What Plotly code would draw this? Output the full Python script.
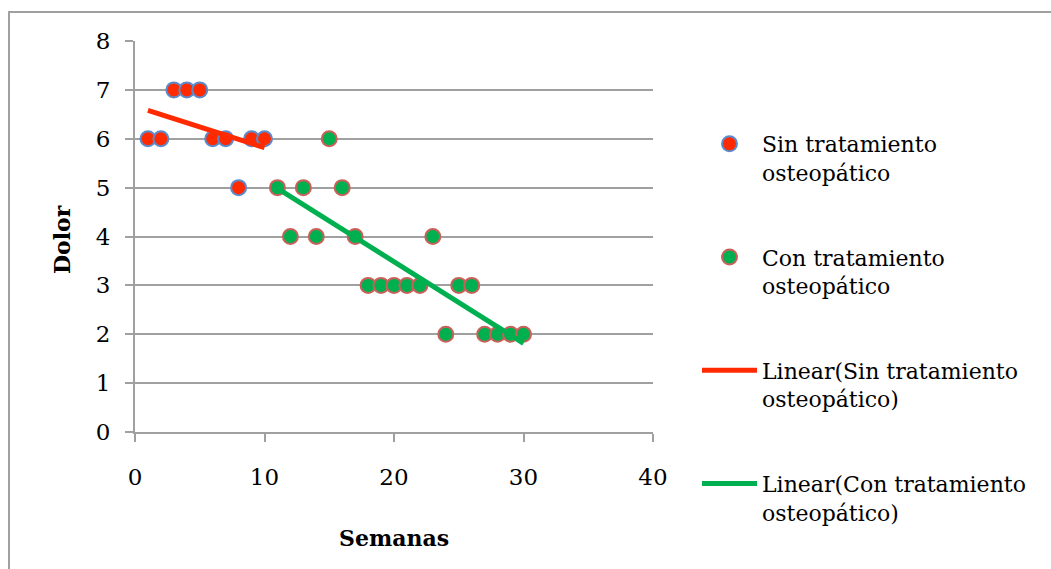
import numpy as np
import plotly.graph_objects as go

# Weekly pain scores
semanas_sin = [1, 2, 3, 4, 5, 6, 7, 8, 9, 10]
dolor_sin = [6, 6, 7, 7, 7, 6, 6, 5, 6, 6]

semanas_con = [11, 12, 13, 14, 15, 16, 17, 18, 19, 20,
               21, 22, 23, 24, 25, 26, 27, 28, 29, 30]
dolor_con = [5, 4, 5, 4, 6, 5, 4, 3, 3, 3,
             3, 3, 4, 2, 3, 3, 2, 2, 2, 2]

x_ticks = [0, 10, 20, 30, 40]
y_ticks = [0, 1, 2, 3, 4, 5, 6, 7, 8]

FONT = "DejaVu Serif"
GRID = "#A0A0A0"


def linear_fit(xs, ys):
    slope, intercept = np.polyfit(xs, ys, 1)
    x_end = [min(xs), max(xs)]
    return x_end, [slope * v + intercept for v in x_end]


fit_sin_x, fit_sin_y = linear_fit(semanas_sin, dolor_sin)
fit_con_x, fit_con_y = linear_fit(semanas_con, dolor_con)

W, H = 1051, 569
ML, MR, MT, MB = 135, 398, 41, 137
PW, PH = W - ML - MR, H - MT - MB


def px_x(p):
    return (p - ML) / PW


def px_y(p):
    return 1 - (p - MT) / PH


fig = go.Figure()

fig.add_trace(go.Scatter(
    x=semanas_sin, y=dolor_sin, mode="markers",
    name="Sin tratamiento<br>osteopático", legendgroup="a",
    marker=dict(size=15, color="#FF2A00", line=dict(color="#5B8BCB", width=2)),
))
fig.add_trace(go.Scatter(
    x=semanas_con, y=dolor_con, mode="markers",
    name="Con tratamiento<br>osteopático", legendgroup="b",
    marker=dict(size=15, color="#00B050", line=dict(color="#C9605A", width=2)),
))
fig.add_trace(go.Scatter(
    x=fit_sin_x, y=fit_sin_y, mode="lines",
    name="Linear(Sin tratamiento<br>osteopático)", legendgroup="c",
    line=dict(color="#FF2A00", width=5),
))
fig.add_trace(go.Scatter(
    x=fit_con_x, y=fit_con_y, mode="lines",
    name="Linear(Con tratamiento<br>osteopático)", legendgroup="d",
    line=dict(color="#00B050", width=5),
))

axis_common = dict(
    showline=True, linecolor=GRID, linewidth=2,
    ticks="outside", ticklen=8, tickwidth=2, tickcolor=GRID,
    tickfont=dict(family=FONT, size=23, color="#000000"),
    zeroline=False, fixedrange=True,
)

fig.update_xaxes(
    range=[0, 40], tickvals=x_ticks, showgrid=False,
    ticklabelstandoff=15, **axis_common,
)
fig.update_yaxes(
    range=[0, 8], tickvals=y_ticks, showgrid=True,
    gridcolor=GRID, gridwidth=2, ticklabelstandoff=10, **axis_common,
)

fig.add_annotation(
    text="<b>Dolor</b>", textangle=-90, showarrow=False,
    xref="paper", yref="paper", x=px_x(62), y=px_y(240),
    xanchor="center", yanchor="middle",
    font=dict(family=FONT, size=22, color="#000000"),
)
fig.add_annotation(
    text="<b>Semanas</b>", showarrow=False,
    xref="paper", yref="paper", x=px_x(394), y=px_y(538),
    xanchor="center", yanchor="middle",
    font=dict(family=FONT, size=22, color="#000000"),
)

# Chart area frame
fig.add_shape(
    type="rect", xref="paper", yref="paper",
    x0=px_x(9), x1=px_x(1060), y0=px_y(580), y1=px_y(12),
    line=dict(color=GRID, width=2), fillcolor="rgba(0,0,0,0)", layer="below",
)

fig.update_layout(
    width=W, height=H,
    margin=dict(l=ML, r=MR, t=MT, b=MB, pad=0),
    paper_bgcolor="#FFFFFF", plot_bgcolor="#FFFFFF",
    showlegend=True,
    legend=dict(
        x=px_x(697), y=px_y(123), xanchor="left", yanchor="top",
        font=dict(family=FONT, size=22, color="#000000"),
        valign="top", itemwidth=55, tracegroupgap=53, maxheight=1000,
        bgcolor="rgba(0,0,0,0)",
    ),
)

fig.write_html("out.html")
